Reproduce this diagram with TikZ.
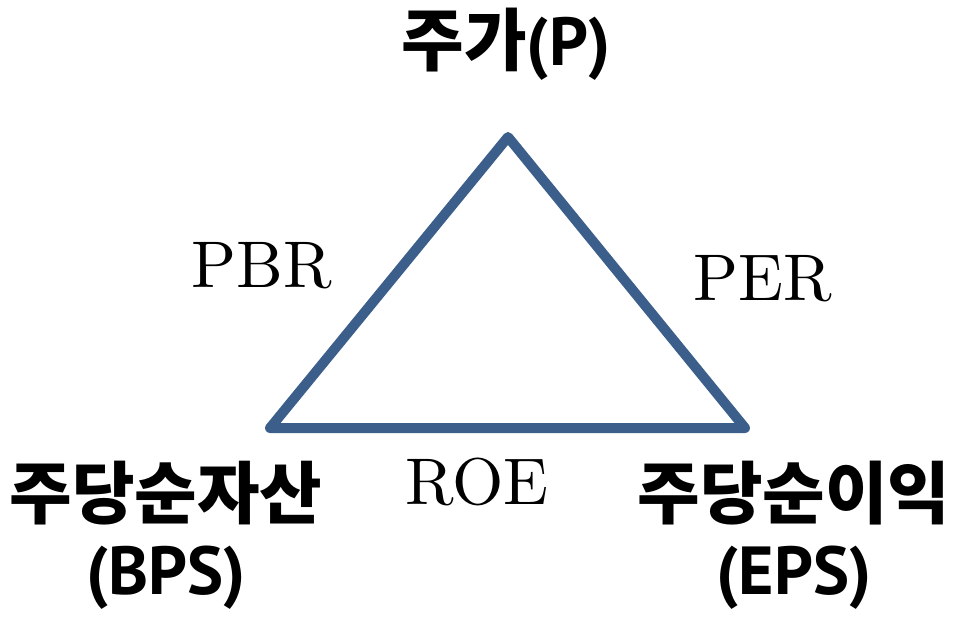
\documentclass[tikz,border=0pt]{standalone}
\usepackage{fontspec}
\usepackage{tikz}
\usetikzlibrary{positioning}
\newfontfamily\kofont{Noto Sans CJK KR}
\newfontfamily\latfont{PT Sans}
\newfontfamily\cmfont{lmroman10-regular.otf}
\definecolor{triblue}{HTML}{3B5E8B}
% Latin part of a Korean label
\newcommand{\abbr}[1]{{\latfont\bfseries #1}}

\begin{document}
\begin{tikzpicture}[x=1pt, y=-1pt,
    kolabel/.style={font=\kofont\bfseries\fontsize{68}{76}\selectfont, align=center, inner sep=0pt},
    ratio/.style={font=\cmfont\fontsize{66}{70}\selectfont, inner sep=0pt}]
        \useasboundingbox (0,0) rectangle (953,619);

        % Corners of the triangle
        \coordinate (P) at (508,137);
        \coordinate (B) at (270,428);
        \coordinate (E) at (745,428);

        % The triangle itself
        \draw[triblue, line width=10pt, line join=round, line cap=round] (B) -- (P) -- (E) -- cycle;

        % Values at the corners
        \node[kolabel] (price) at (506,44) {주가\abbr{(P)}};
        \node[kolabel] (bps) at (166,535) {주당순자산\\\abbr{(BPS)}};
        \node[kolabel] (eps) at (794,535) {주당순이익\\\abbr{(EPS)}};

        % Ratios along the sides
        \node[ratio] (pbr) at (262,266) {PBR};
        \node[ratio] (per) at (763,279) {PER};
        \node[ratio] (roe) at (477,482) {ROE};
    \end{tikzpicture}
\end{document}
